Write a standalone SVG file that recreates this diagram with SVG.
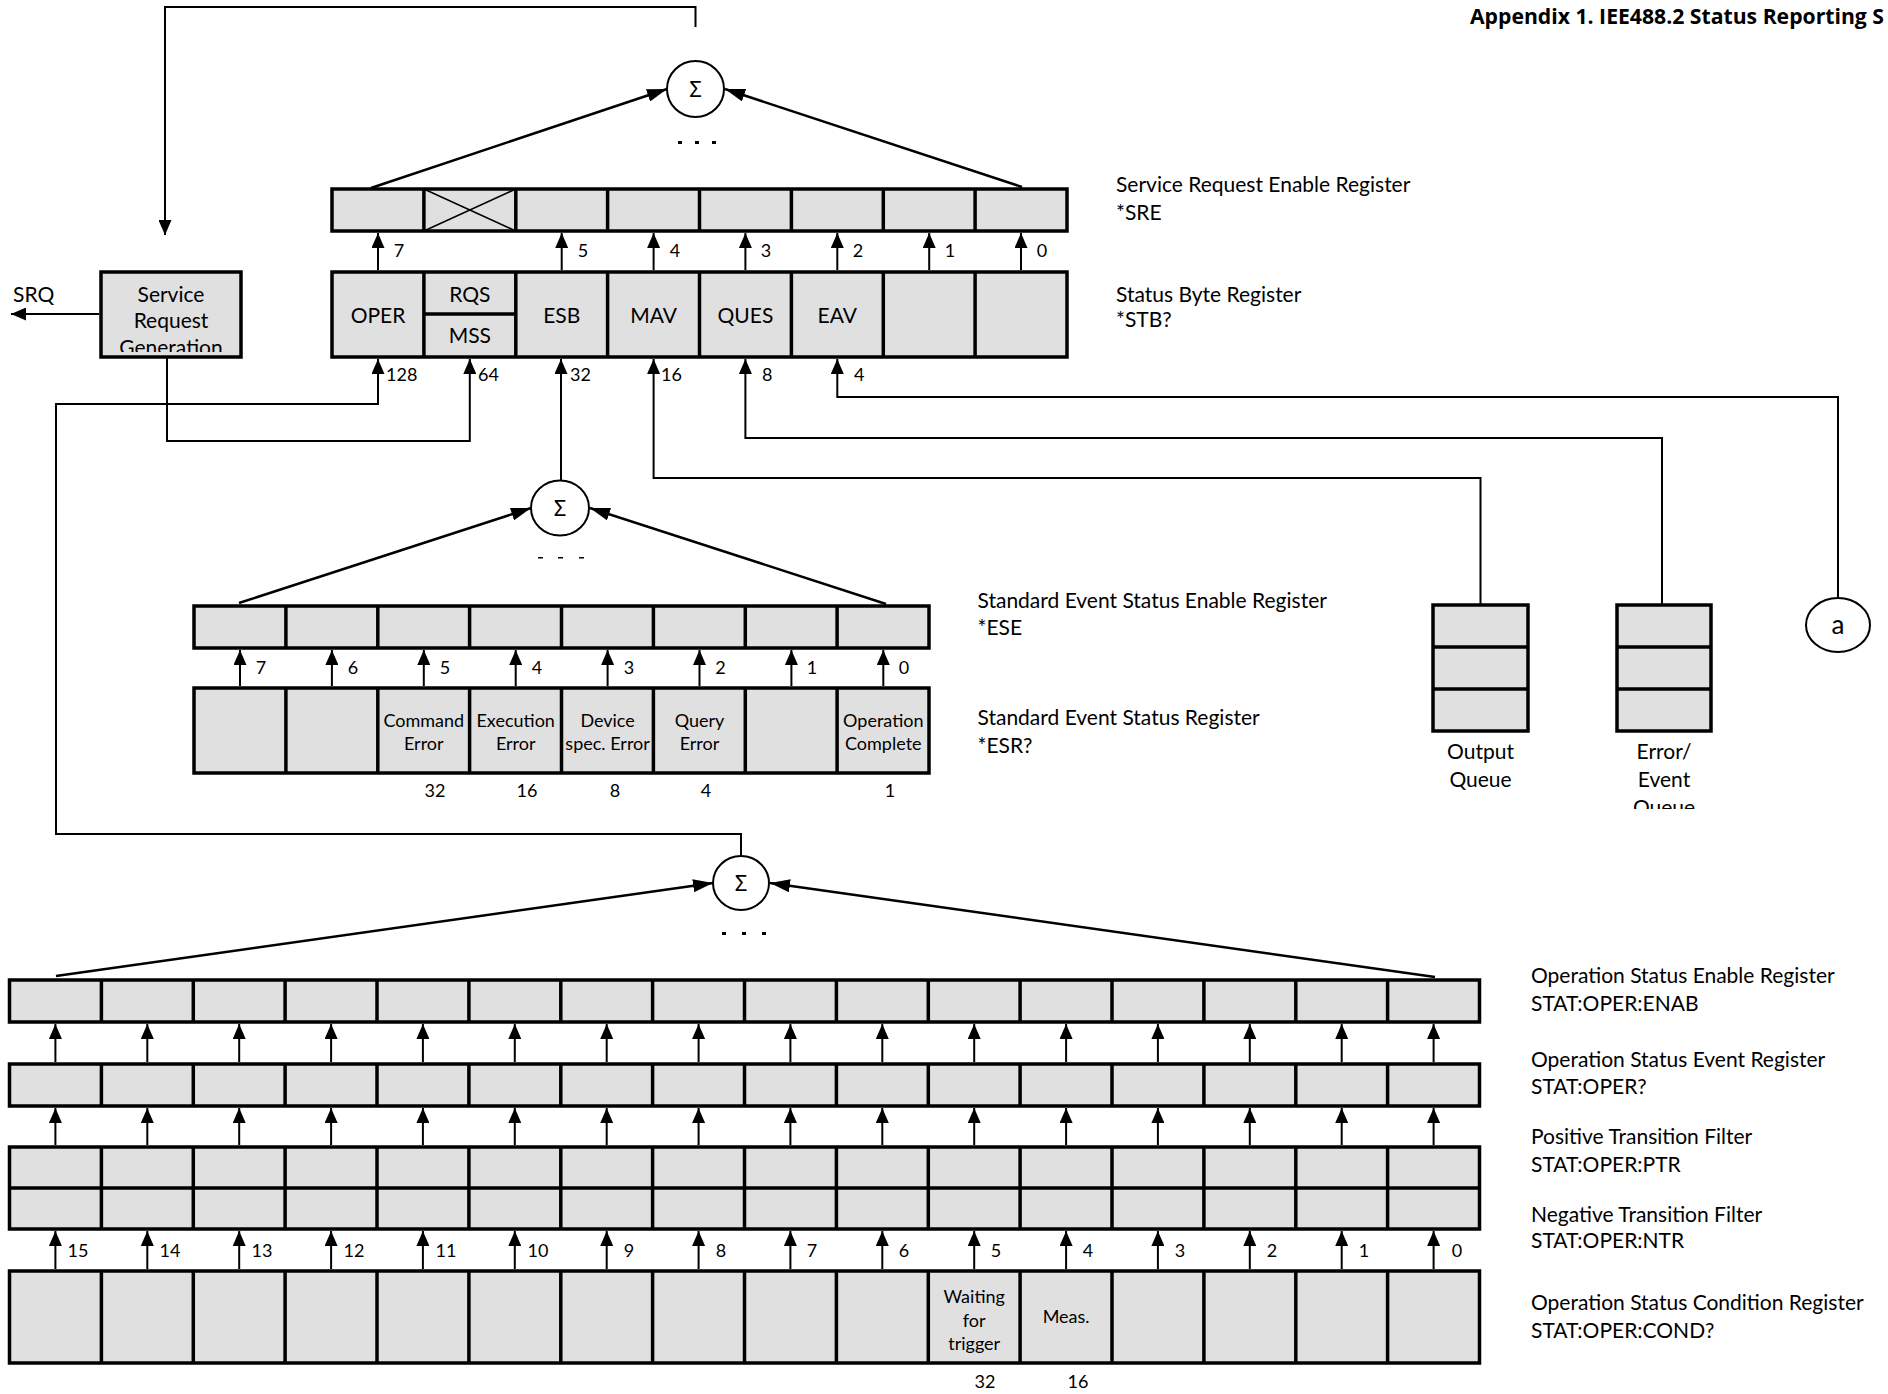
<svg xmlns="http://www.w3.org/2000/svg" width="1888" height="1394" viewBox="0 0 1888 1394">
<style>
.reg{fill:#e0e0e0;stroke:#000;stroke-width:3.5}
.div{fill:none;stroke:#000;stroke-width:3.5}
.ln{fill:none;stroke:#000;stroke-width:2}
.dg{fill:none;stroke:#000;stroke-width:2.5;marker-end:url(#ahb)}
.ar{fill:none;stroke:#000;stroke-width:2;marker-end:url(#ah)}
.t{font-family:Lato,"Noto Sans",sans-serif;font-size:21px;fill:#000}
.s{font-family:Lato,"Noto Sans",sans-serif;font-size:18px;fill:#000}
.m{text-anchor:middle}
.sig{fill:#fff;stroke:#000;stroke-width:2}
.sg{font-family:"Noto Sans","DejaVu Sans",sans-serif;font-size:22px;text-anchor:middle}
.dot{fill:#000}
</style>
<defs>
<marker id="ah" viewBox="0 0 15 13" refX="15" refY="6.5" markerWidth="15" markerHeight="13" markerUnits="userSpaceOnUse" orient="auto"><path d="M0,0L15,6.5L0,13z"/></marker>
<marker id="ahb" viewBox="0 0 20 13" refX="20" refY="6.5" markerWidth="20" markerHeight="13" markerUnits="userSpaceOnUse" orient="auto"><path d="M0,0L20,6.5L0,13z"/></marker>
<clipPath id="clipSrg"><rect x="101" y="272" width="140" height="80"/></clipPath>
<clipPath id="clipEq"><rect x="1590" y="740" width="150" height="69"/></clipPath>
</defs>

<text x="1470" y="24" textLength="414" lengthAdjust="spacingAndGlyphs" style="font-family:'Open Sans','Noto Sans',sans-serif;font-size:21px;font-weight:bold">Appendix 1. IEE488.2 Status Reporting S</text>

<g id="connectors">
<path class="ar" d="M695.5,27V7H165V235"/>
<path class="ar" d="M99,314H11"/>
<path class="ar" d="M167,357V441H469.8V359"/>
<path class="ar" d="M741,856V834H56V404H378V359"/>
<path class="ar" d="M561,480V359"/>
<path class="ar" d="M1480.5,605V478H653.6V359"/>
<path class="ar" d="M1662,605V438H745.4V359"/>
<path class="ar" d="M1838,598V397H837.3V359"/>
<path class="dg" d="M371,188L667,89"/>
<path class="dg" d="M1022,187L725,89"/>
<path class="dg" d="M239,603L531,508"/>
<path class="dg" d="M886,604L590,508"/>
<path class="dg" d="M56,976L713,883"/>
<path class="dg" d="M1435,977L770,883"/>
<g id="sre-arrows">
<path class="ar" d="M378,270V233"/><path class="ar" d="M561.7,270V233"/><path class="ar" d="M653.6,270V233"/><path class="ar" d="M745.4,270V233"/><path class="ar" d="M837.3,270V233"/><path class="ar" d="M929.2,270V233"/><path class="ar" d="M1021,270V233"/>
</g>
<g id="ese-arrows">
<path class="ar" d="M240,686V650"/><path class="ar" d="M331.9,686V650"/><path class="ar" d="M423.8,686V650"/><path class="ar" d="M515.7,686V650"/><path class="ar" d="M607.6,686V650"/><path class="ar" d="M699.5,686V650"/><path class="ar" d="M791.4,686V650"/><path class="ar" d="M883.3,686V650"/>
</g>
<g id="enab-arrows">
<path class="ar" d="M55.4,1062V1024"/><path class="ar" d="M147.3,1062V1024"/><path class="ar" d="M239.2,1062V1024"/><path class="ar" d="M331.1,1062V1024"/><path class="ar" d="M422.9,1062V1024"/><path class="ar" d="M514.8,1062V1024"/><path class="ar" d="M606.7,1062V1024"/><path class="ar" d="M698.6,1062V1024"/><path class="ar" d="M790.4,1062V1024"/><path class="ar" d="M882.3,1062V1024"/><path class="ar" d="M974.2,1062V1024"/><path class="ar" d="M1066.1,1062V1024"/><path class="ar" d="M1157.9,1062V1024"/><path class="ar" d="M1249.8,1062V1024"/><path class="ar" d="M1341.7,1062V1024"/><path class="ar" d="M1433.6,1062V1024"/>
</g>
<g id="event-arrows">
<path class="ar" d="M55.4,1145V1108"/><path class="ar" d="M147.3,1145V1108"/><path class="ar" d="M239.2,1145V1108"/><path class="ar" d="M331.1,1145V1108"/><path class="ar" d="M422.9,1145V1108"/><path class="ar" d="M514.8,1145V1108"/><path class="ar" d="M606.7,1145V1108"/><path class="ar" d="M698.6,1145V1108"/><path class="ar" d="M790.4,1145V1108"/><path class="ar" d="M882.3,1145V1108"/><path class="ar" d="M974.2,1145V1108"/><path class="ar" d="M1066.1,1145V1108"/><path class="ar" d="M1157.9,1145V1108"/><path class="ar" d="M1249.8,1145V1108"/><path class="ar" d="M1341.7,1145V1108"/><path class="ar" d="M1433.6,1145V1108"/>
</g>
<g id="cond-arrows">
<path class="ar" d="M55.4,1269V1231"/><path class="ar" d="M147.3,1269V1231"/><path class="ar" d="M239.2,1269V1231"/><path class="ar" d="M331.1,1269V1231"/><path class="ar" d="M422.9,1269V1231"/><path class="ar" d="M514.8,1269V1231"/><path class="ar" d="M606.7,1269V1231"/><path class="ar" d="M698.6,1269V1231"/><path class="ar" d="M790.4,1269V1231"/><path class="ar" d="M882.3,1269V1231"/><path class="ar" d="M974.2,1269V1231"/><path class="ar" d="M1066.1,1269V1231"/><path class="ar" d="M1157.9,1269V1231"/><path class="ar" d="M1249.8,1269V1231"/><path class="ar" d="M1341.7,1269V1231"/><path class="ar" d="M1433.6,1269V1231"/>
</g>
</g>

<g id="sum-top">
<ellipse class="sig" cx="695.5" cy="89" rx="28.5" ry="28"/>
<text class="sg" x="695.5" y="97">Σ</text>
<rect class="dot" x="678" y="141" width="4" height="3"/><rect class="dot" x="695" y="141" width="4" height="3"/><rect class="dot" x="712" y="141" width="4" height="3"/>
</g>

<g id="sum-mid">
<ellipse class="sig" cx="560" cy="508" rx="29" ry="27.5"/>
<text class="sg" x="560" y="516">Σ</text>
<rect class="dot" x="538" y="557" width="5" height="1.5"/><rect class="dot" x="558" y="557" width="5" height="1.5"/><rect class="dot" x="579" y="557" width="5" height="1.5"/>
</g>

<g id="sum-bot">
<ellipse class="sig" cx="741" cy="883" rx="28" ry="27"/>
<text class="sg" x="741" y="891">Σ</text>
<rect class="dot" x="722" y="932" width="4" height="3"/><rect class="dot" x="742" y="932" width="4" height="3"/><rect class="dot" x="762" y="932" width="4" height="3"/>
</g>

<g id="srg">
<rect class="reg" x="101" y="272" width="140" height="85"/>
<g clip-path="url(#clipSrg)">
<text class="t m" x="171" y="302">Service</text>
<text class="t m" x="171" y="328">Request</text>
<text class="t m" x="171" y="355">Generation</text>
</g>
</g>
<text id="srq" class="t" x="13" y="302">SRQ</text>

<g id="sre">
<rect class="reg" x="332" y="189" width="735" height="42"/>
<path class="div" d="M423.9,189V231M515.8,189V231M607.6,189V231M699.5,189V231M791.4,189V231M883.3,189V231M975.1,189V231"/>
<path class="ln" style="stroke-width:1.5" d="M423.9,189L515.8,231M515.8,189L423.9,231"/>
<text class="s m" x="399" y="257">7</text>
<text class="s m" x="583" y="257">5</text>
<text class="s m" x="675" y="257">4</text>
<text class="s m" x="766" y="257">3</text>
<text class="s m" x="858" y="257">2</text>
<text class="s m" x="950" y="257">1</text>
<text class="s m" x="1042" y="257">0</text>
<text class="t" x="1116" y="192">Service Request Enable Register</text>
<text class="t" x="1116" y="220">*SRE</text>
</g>

<g id="stb">
<rect class="reg" x="332" y="272" width="735" height="85"/>
<path class="div" d="M423.9,272V357M515.8,272V357M607.6,272V357M699.5,272V357M791.4,272V357M883.3,272V357M975.1,272V357M423.9,314H515.8"/>
<text class="t m" x="378" y="323">OPER</text>
<text class="t m" x="469.8" y="302">RQS</text>
<text class="t m" x="469.8" y="343">MSS</text>
<text class="t m" x="561.7" y="323">ESB</text>
<text class="t m" x="653.6" y="323">MAV</text>
<text class="t m" x="745.4" y="323">QUES</text>
<text class="t m" x="837.3" y="323">EAV</text>
<text class="s" x="386" y="381">128</text>
<text class="s" x="478" y="381">64</text>
<text class="s" x="570" y="381">32</text>
<text class="s" x="661" y="381">16</text>
<text class="s" x="762" y="381">8</text>
<text class="s" x="854" y="381">4</text>
<text class="t" x="1116" y="302">Status Byte Register</text>
<text class="t" x="1116" y="327">*STB?</text>
</g>

<g id="ese">
<rect class="reg" x="194" y="606" width="735" height="42"/>
<path class="div" d="M285.9,606V648M377.8,606V648M469.6,606V648M561.5,606V648M653.4,606V648M745.3,606V648M837.1,606V648"/>
<text class="s m" x="261" y="674">7</text>
<text class="s m" x="353" y="674">6</text>
<text class="s m" x="445" y="674">5</text>
<text class="s m" x="537" y="674">4</text>
<text class="s m" x="629" y="674">3</text>
<text class="s m" x="720.5" y="674">2</text>
<text class="s m" x="812" y="674">1</text>
<text class="s m" x="904" y="674">0</text>
<text class="t" x="977.5" y="608">Standard Event Status Enable Register</text>
<text class="t" x="977.5" y="635">*ESE</text>
</g>

<g id="esr">
<rect class="reg" x="194" y="688" width="735" height="85"/>
<path class="div" d="M285.9,688V773M377.8,688V773M469.6,688V773M561.5,688V773M653.4,688V773M745.3,688V773M837.1,688V773"/>
<text class="s m" x="423.8" y="727">Command</text><text class="s m" x="423.8" y="750">Error</text>
<text class="s m" x="515.7" y="727">Execution</text><text class="s m" x="515.7" y="750">Error</text>
<text class="s m" x="607.6" y="727">Device</text><text class="s m" x="607.6" y="750">spec. Error</text>
<text class="s m" x="699.5" y="727">Query</text><text class="s m" x="699.5" y="750">Error</text>
<text class="s m" x="883.3" y="727">Operation</text><text class="s m" x="883.3" y="750">Complete</text>
<text class="s m" x="435" y="797">32</text>
<text class="s m" x="527" y="797">16</text>
<text class="s m" x="615" y="797">8</text>
<text class="s m" x="706" y="797">4</text>
<text class="s m" x="890" y="797">1</text>
<text class="t" x="977.5" y="725">Standard Event Status Register</text>
<text class="t" x="977.5" y="753">*ESR?</text>
</g>

<g id="output-queue">
<rect class="reg" x="1433" y="605" width="95" height="126"/>
<path class="div" d="M1433,647H1528M1433,689H1528"/>
<text class="t m" x="1480.5" y="759">Output</text>
<text class="t m" x="1480.5" y="787">Queue</text>
</g>

<g id="error-queue">
<rect class="reg" x="1617" y="605" width="94" height="126"/>
<path class="div" d="M1617,647H1711M1617,689H1711"/>
<g clip-path="url(#clipEq)">
<text class="t m" x="1664" y="759">Error/</text>
<text class="t m" x="1664" y="787">Event</text>
<text class="t m" x="1664" y="815">Queue</text>
</g>
</g>

<g id="node-a">
<ellipse class="sig" cx="1838" cy="625" rx="32" ry="27"/>
<text x="1838" y="634" style="font-family:Lato,'Noto Sans',sans-serif;font-size:26px;text-anchor:middle">a</text>
</g>

<g id="oper-enab">
<rect class="reg" x="9.5" y="980" width="1470" height="42"/>
<path class="div" d="M101.4,980V1022M193.3,980V1022M285.1,980V1022M377,980V1022M468.9,980V1022M560.8,980V1022M652.6,980V1022M744.5,980V1022M836.4,980V1022M928.3,980V1022M1020.1,980V1022M1112,980V1022M1203.9,980V1022M1295.8,980V1022M1387.6,980V1022"/>
<text class="t" x="1531" y="983">Operation Status Enable Register</text>
<text class="t" x="1531" y="1011">STAT:OPER:ENAB</text>
</g>

<g id="oper-event">
<rect class="reg" x="9.5" y="1064" width="1470" height="42"/>
<path class="div" d="M101.4,1064V1106M193.3,1064V1106M285.1,1064V1106M377,1064V1106M468.9,1064V1106M560.8,1064V1106M652.6,1064V1106M744.5,1064V1106M836.4,1064V1106M928.3,1064V1106M1020.1,1064V1106M1112,1064V1106M1203.9,1064V1106M1295.8,1064V1106M1387.6,1064V1106"/>
<text class="t" x="1531" y="1067">Operation Status Event Register</text>
<text class="t" x="1531" y="1094">STAT:OPER?</text>
</g>

<g id="oper-ptr-ntr">
<rect class="reg" x="9.5" y="1147" width="1470" height="82"/>
<path class="div" d="M9.5,1188H1479.5M101.4,1147V1229M193.3,1147V1229M285.1,1147V1229M377,1147V1229M468.9,1147V1229M560.8,1147V1229M652.6,1147V1229M744.5,1147V1229M836.4,1147V1229M928.3,1147V1229M1020.1,1147V1229M1112,1147V1229M1203.9,1147V1229M1295.8,1147V1229M1387.6,1147V1229"/>
<text class="t" x="1531" y="1144">Positive Transition Filter</text>
<text class="t" x="1531" y="1172">STAT:OPER:PTR</text>
<text class="t" x="1531" y="1222">Negative Transition Filter</text>
<text class="t" x="1531" y="1248">STAT:OPER:NTR</text>
</g>

<g id="oper-bits">
<text class="s m" x="78" y="1257">15</text>
<text class="s m" x="170" y="1257">14</text>
<text class="s m" x="262" y="1257">13</text>
<text class="s m" x="354" y="1257">12</text>
<text class="s m" x="446" y="1257">11</text>
<text class="s m" x="538" y="1257">10</text>
<text class="s m" x="629" y="1257">9</text>
<text class="s m" x="721" y="1257">8</text>
<text class="s m" x="812" y="1257">7</text>
<text class="s m" x="904" y="1257">6</text>
<text class="s m" x="996" y="1257">5</text>
<text class="s m" x="1088" y="1257">4</text>
<text class="s m" x="1180" y="1257">3</text>
<text class="s m" x="1272" y="1257">2</text>
<text class="s m" x="1364" y="1257">1</text>
<text class="s m" x="1457" y="1257">0</text>
</g>

<g id="oper-cond">
<rect class="reg" x="9.5" y="1271" width="1470" height="92"/>
<path class="div" d="M101.4,1271V1363M193.3,1271V1363M285.1,1271V1363M377,1271V1363M468.9,1271V1363M560.8,1271V1363M652.6,1271V1363M744.5,1271V1363M836.4,1271V1363M928.3,1271V1363M1020.1,1271V1363M1112,1271V1363M1203.9,1271V1363M1295.8,1271V1363M1387.6,1271V1363"/>
<text class="s m" x="974.2" y="1303">Waiting</text>
<text class="s m" x="974.2" y="1327">for</text>
<text class="s m" x="974.2" y="1350">trigger</text>
<text class="s m" x="1066.1" y="1323">Meas.</text>
<text class="s m" x="985" y="1388">32</text>
<text class="s m" x="1078" y="1388">16</text>
<text class="t" x="1531" y="1310">Operation Status Condition Register</text>
<text class="t" x="1531" y="1338">STAT:OPER:COND?</text>
</g>
</svg>
